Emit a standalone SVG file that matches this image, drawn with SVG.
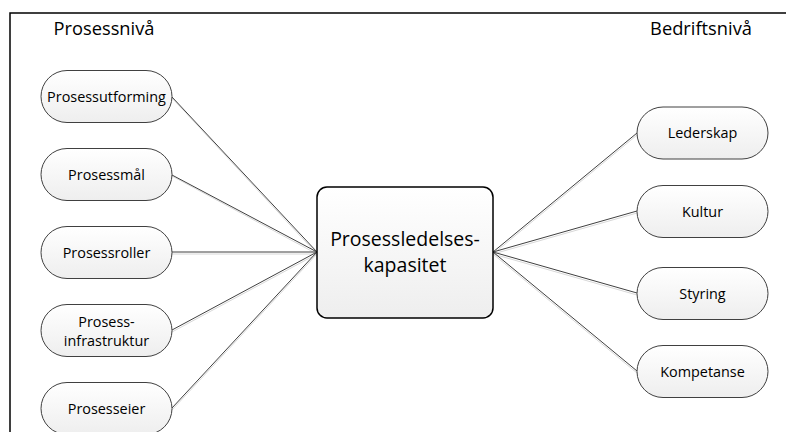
<svg xmlns="http://www.w3.org/2000/svg" width="786" height="432" viewBox="0 0 786 432">
<defs>
<linearGradient id="g" x1="0" y1="0" x2="0" y2="1">
<stop offset="0" stop-color="#ffffff"/>
<stop offset="1" stop-color="#eeeeee"/>
</linearGradient>
</defs>
<style>
.node{fill:url(#g);stroke:#404040;stroke-width:1}
.center{fill:url(#g);stroke:#000;stroke-width:1.5}
.lbl{font-family:"Open Sans",Lato,sans-serif;font-size:14.4px;fill:#000;text-anchor:middle}
.title{font-family:"Open Sans",Lato,sans-serif;font-size:18.3px;fill:#000;text-anchor:middle}
.big{font-family:"Open Sans",Lato,sans-serif;font-size:19.5px;fill:#000;text-anchor:middle}
.con{stroke:#404040;stroke-width:1;fill:none}
.sh{stroke:#d8d8d8;stroke-width:1;fill:none}
</style>
<rect x="10" y="13" width="800" height="450" fill="#fff" stroke="#000" stroke-width="1.5"/>
<text class="title" x="104" y="35">Prosessnivå</text>
<text class="title" x="701" y="35">Bedriftsnivå</text>
<g id="connectors">
<line class="sh" x1="172" y1="98" x2="317" y2="254"/>
<line class="sh" x1="172" y1="176" x2="317" y2="254"/>
<line class="sh" x1="172" y1="254" x2="317" y2="254"/>
<line class="sh" x1="172" y1="332" x2="317" y2="254"/>
<line class="sh" x1="172" y1="410" x2="317" y2="254"/>
<line class="sh" x1="493" y1="254" x2="637" y2="135"/>
<line class="sh" x1="493" y1="254" x2="637" y2="213"/>
<line class="sh" x1="493" y1="254" x2="637" y2="295"/>
<line class="sh" x1="493" y1="254" x2="637" y2="373"/>
<line class="con" x1="172" y1="97" x2="317" y2="252"/>
<line class="con" x1="172" y1="175" x2="317" y2="252"/>
<line class="con" x1="172" y1="252" x2="317" y2="252"/>
<line class="con" x1="172" y1="330" x2="317" y2="252"/>
<line class="con" x1="172" y1="408" x2="317" y2="252"/>
<line class="con" x1="493" y1="252" x2="637" y2="133"/>
<line class="con" x1="493" y1="252" x2="637" y2="211"/>
<line class="con" x1="493" y1="252" x2="637" y2="293"/>
<line class="con" x1="493" y1="252" x2="637" y2="371"/>
</g>
<g id="n-prosessutforming">
<rect class="node" x="41" y="70.5" width="131" height="52" rx="26"/>
<text class="lbl" x="106.5" y="101.5">Prosessutforming</text>
</g>
<g id="n-prosessmal">
<rect class="node" x="41" y="148.5" width="131" height="52" rx="26"/>
<text class="lbl" x="106.5" y="179.5">Prosessmål</text>
</g>
<g id="n-prosessroller">
<rect class="node" x="41" y="226.5" width="131" height="52" rx="26"/>
<text class="lbl" x="106.5" y="257.5">Prosessroller</text>
</g>
<g id="n-prosessinfrastruktur">
<rect class="node" x="41" y="304.5" width="131" height="52" rx="26"/>
<text class="lbl" x="106.5" y="327">Prosess-</text>
<text class="lbl" x="106.5" y="345.5">infrastruktur</text>
</g>
<g id="n-prosesseier">
<rect class="node" x="41" y="382.5" width="131" height="52" rx="26"/>
<text class="lbl" x="106.5" y="413.5">Prosesseier</text>
</g>
<g id="n-center">
<rect class="center" x="317" y="187" width="176" height="131" rx="10"/>
<text class="big" x="405" y="246">Prosessledelses-</text>
<text class="big" x="405" y="272">kapasitet</text>
</g>
<g id="n-lederskap">
<rect class="node" x="637" y="107" width="131" height="52" rx="26"/>
<text class="lbl" x="702.5" y="138">Lederskap</text>
</g>
<g id="n-kultur">
<rect class="node" x="637" y="185.5" width="131" height="52" rx="26"/>
<text class="lbl" x="702.5" y="216.5">Kultur</text>
</g>
<g id="n-styring">
<rect class="node" x="637" y="267.5" width="131" height="52" rx="26"/>
<text class="lbl" x="702.5" y="298.5">Styring</text>
</g>
<g id="n-kompetanse">
<rect class="node" x="637" y="345.5" width="131" height="52" rx="26"/>
<text class="lbl" x="702.5" y="376.5">Kompetanse</text>
</g>
</svg>
